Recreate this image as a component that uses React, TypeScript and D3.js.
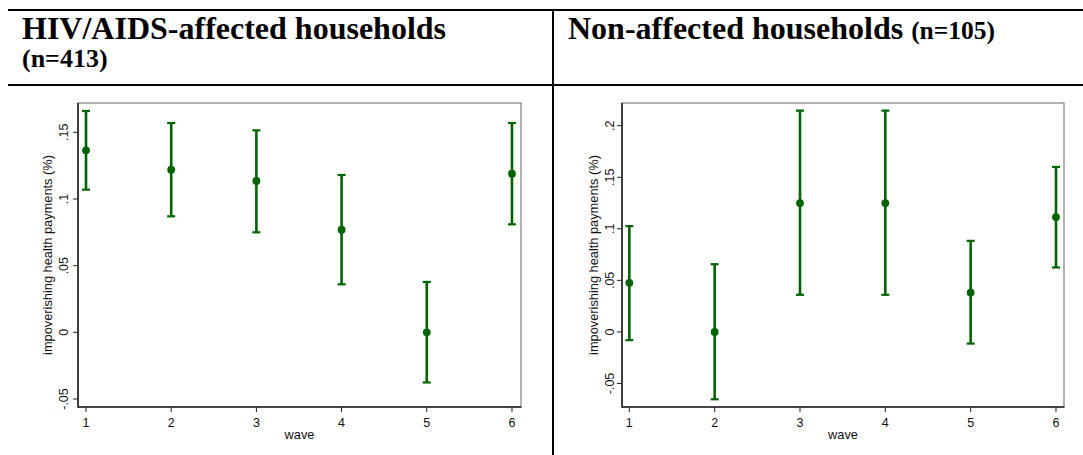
import React from "react";
import * as d3 from "d3";

const waves = [1, 2, 3, 4, 5, 6];
const hivMean = [0.1365, 0.122, 0.1135, 0.077, 0.0, 0.119];
const hivLower = [0.107, 0.087, 0.075, 0.036, -0.0376, 0.081];
const hivUpper = [0.166, 0.157, 0.1515, 0.118, 0.0378, 0.157];
const nonMean = [0.0476, 0.0, 0.125, 0.125, 0.0382, 0.1114];
const nonLower = [-0.008, -0.0653, 0.036, 0.036, -0.0113, 0.0625];
const nonUpper = [0.1026, 0.0657, 0.2146, 0.2146, 0.0883, 0.16];
const hivTicks = [-0.05, 0, 0.05, 0.1, 0.15];
const hivTickLabels = ["-.05", "0", ".05", ".1", ".15"];
const nonTicks = [-0.05, 0, 0.05, 0.1, 0.15, 0.2];
const nonTickLabels = ["-.05", "0", ".05", ".1", ".15", ".2"];

const GREEN = "#006400";
const SANS = "'Liberation Sans', Arial, sans-serif";
const SERIF = "'Liberation Serif', 'Times New Roman', serif";

type PanelProps = {
  left: number;
  right: number;
  xDomain: [number, number];
  yDomain: [number, number];
  mean: number[];
  lower: number[];
  upper: number[];
  ticks: number[];
  tickLabels: string[];
  tickOff: number;
  titleOff: number;
};

const TOP = 103;
const BOTTOM = 407;

function Panel(p: PanelProps) {
  const x = d3.scaleLinear().domain(p.xDomain).range([p.left, p.right]);
  const y = d3.scaleLinear().domain(p.yDomain).range([BOTTOM, TOP]);
  const cx = (p.left + p.right) / 2;
  return (
    <g>
      <rect x={p.left} y={TOP} width={p.right - p.left} height={BOTTOM - TOP} fill="white" stroke="#666" strokeWidth={1} />
      <line x1={p.left} x2={p.right + 0.5} y1={BOTTOM} y2={BOTTOM} stroke="#222" strokeWidth={1.6} />
      <line x1={p.left} x2={p.left} y1={TOP} y2={BOTTOM + 0.8} stroke="#222" strokeWidth={1.6} />
      {p.ticks.map((t, i) => (
        <g key={"yt" + i}>
          <line x1={p.left - 5} x2={p.left} y1={y(t)} y2={y(t)} stroke="#222" strokeWidth={1} />
          <text
            transform={`translate(${p.left - p.tickOff},${y(t)}) rotate(-90)`}
            textAnchor="middle"
            fontFamily={SANS}
            fontSize={12.5}
            fill="#111"
          >
            {p.tickLabels[i]}
          </text>
        </g>
      ))}
      {waves.map((w) => (
        <g key={"xt" + w}>
          <line x1={x(w)} x2={x(w)} y1={BOTTOM} y2={BOTTOM + 5} stroke="#222" strokeWidth={1} />
          <text x={x(w)} y={426.5} textAnchor="middle" fontFamily={SANS} fontSize={12.5} fill="#111">
            {w}
          </text>
        </g>
      ))}
      <text x={cx} y={439} textAnchor="middle" fontFamily={SANS} fontSize={12.8} fill="#111">
        wave
      </text>
      <text
        transform={`translate(${p.left - p.titleOff},${(TOP + BOTTOM) / 2}) rotate(-90)`}
        textAnchor="middle"
        fontFamily={SANS}
        fontSize={12.8}
        fill="#111"
      >
        impoverishing health payments (%)
      </text>
      {waves.map((w, i) => (
        <g key={"eb" + w}>
          <line x1={x(w)} x2={x(w)} y1={y(p.lower[i])} y2={y(p.upper[i])} stroke={GREEN} strokeWidth={2.6} />
          <line x1={x(w) - 4} x2={x(w) + 4} y1={y(p.lower[i])} y2={y(p.lower[i])} stroke={GREEN} strokeWidth={2.2} />
          <line x1={x(w) - 4} x2={x(w) + 4} y1={y(p.upper[i])} y2={y(p.upper[i])} stroke={GREEN} strokeWidth={2.2} />
          <circle cx={x(w)} cy={y(p.mean[i])} r={3.9} fill={GREEN} />
        </g>
      ))}
    </g>
  );
}

export default function App() {
  return (
    <svg width={1083} height={455} style={{ position: "absolute", left: 0, top: 0, background: "white" }}>
      <rect x={0} y={0} width={1083} height={455} fill="white" />
      <line x1={8} x2={1083} y1={10} y2={10} stroke="black" strokeWidth={2} />
      <line x1={8} x2={1083} y1={85} y2={85} stroke="black" strokeWidth={2} />
      <line x1={553} x2={553} y1={9} y2={455} stroke="black" strokeWidth={2} />
      <text x={22} y={39} fontFamily={SERIF} fontWeight="bold" fontSize={32} fill="black">
        HIV/AIDS-affected households
      </text>
      <text x={22} y={67} fontFamily={SERIF} fontWeight="bold" fontSize={26} fill="black">
        (n=413)
      </text>
      <text x={568} y={39} fontFamily={SERIF} fontWeight="bold" fill="black">
        <tspan fontSize={32}>Non-affected households </tspan>
        <tspan fontSize={25.5}>(n=105)</tspan>
      </text>
      <Panel
        left={78}
        right={521}
        xDomain={[0.906, 6.106]}
        yDomain={[-0.056, 0.172]}
        mean={hivMean}
        lower={hivLower}
        upper={hivUpper}
        ticks={hivTicks}
        tickLabels={hivTickLabels}
        tickOff={10.5}
        titleOff={26.5}
      />
      <Panel
        left={622}
        right={1064}
        xDomain={[0.914, 6.094]}
        yDomain={[-0.0728, 0.222]}
        mean={nonMean}
        lower={nonLower}
        upper={nonUpper}
        ticks={nonTicks}
        tickLabels={nonTickLabels}
        tickOff={7.8}
        titleOff={24}
      />
    </svg>
  );
}
